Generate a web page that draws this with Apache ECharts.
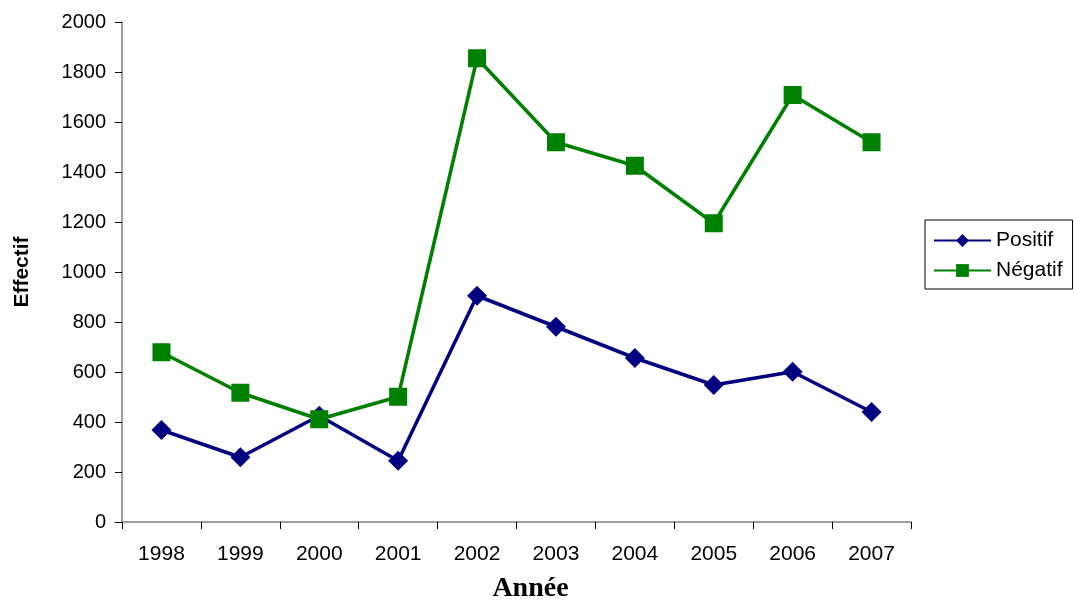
<!DOCTYPE html>
<html>
<head>
<meta charset="utf-8">
<script src="https://cdn.jsdelivr.net/npm/echarts@6/dist/echarts.min.js"></script>
<style>
  html, body { margin: 0; padding: 0; background: #fff; }
  #chart { width: 1074px; height: 603px; }
</style>
</head>
<body>
<div id="chart"></div>
<script>
// Effectifs annuels par résultat
const years = ['1998', '1999', '2000', '2001', '2002', '2003', '2004', '2005', '2006', '2007'];
const positif = [368, 259, 425, 245, 905, 781, 656, 548, 601, 440];
const negatif = [679, 517, 411, 501, 1855, 1519, 1425, 1195, 1708, 1519];

const chart = echarts.init(document.getElementById('chart'));
const sans = 'Liberation Sans, Arial, sans-serif';

chart.setOption({
  animation: false,
  backgroundColor: '#fff',
  grid: { left: 122, right: 163, top: 22, bottom: 81, containLabel: false, outerBoundsMode: 'none' },
  legend: {
    orient: 'vertical',
    left: 925,
    top: 220,
    padding: [10, 10, 8, 8],
    itemGap: 9,
    itemWidth: 57,
    itemHeight: 16,
    borderColor: '#000',
    borderWidth: 1,
    lineStyle: { width: 2 },
    textStyle: { fontFamily: sans, fontSize: 21, color: '#000' },
    data: ['Positif', 'Négatif']
  },
  xAxis: {
    type: 'category',
    data: years,
    boundaryGap: true,
    name: 'Année',
    nameLocation: 'middle',
    nameGap: 53,
    nameTextStyle: {
      fontFamily: 'Liberation Serif, Times New Roman, serif',
      fontSize: 28, fontWeight: 'bold', color: '#000',
      padding: [0, 0, 0, 28]
    },
    axisLine: { lineStyle: { color: '#808080', width: 1.5 } },
    axisTick: { show: true, alignWithLabel: false, length: 7, lineStyle: { color: '#000' } },
    axisLabel: { fontFamily: sans, fontSize: 21, color: '#000', margin: 22 }
  },
  yAxis: {
    type: 'value',
    min: 0,
    max: 2000,
    interval: 200,
    name: 'Effectif',
    nameLocation: 'middle',
    nameGap: 89,
    nameTextStyle: { fontFamily: sans, fontSize: 21, fontWeight: 'bold', color: '#000' },
    axisLine: { show: true, lineStyle: { color: '#808080', width: 1.5 } },
    axisTick: { show: true, length: 7, lineStyle: { color: '#000' } },
    splitLine: { show: false },
    axisLabel: {
      fontFamily: sans, fontSize: 20, color: '#000', margin: 16,
      formatter: function (v) { return String(v); }
    }
  },
  series: [
    {
      name: 'Positif',
      type: 'line',
      data: positif,
      symbol: 'diamond',
      symbolSize: 20,
      lineStyle: { color: '#000080', width: 3.5 },
      itemStyle: { color: '#000080' },
      z: 2
    },
    {
      name: 'Négatif',
      type: 'line',
      data: negatif,
      symbol: 'rect',
      symbolSize: 18,
      lineStyle: { color: '#008000', width: 3.5 },
      itemStyle: { color: '#008000' },
      z: 3
    }
  ]
});
</script>
</body>
</html>
